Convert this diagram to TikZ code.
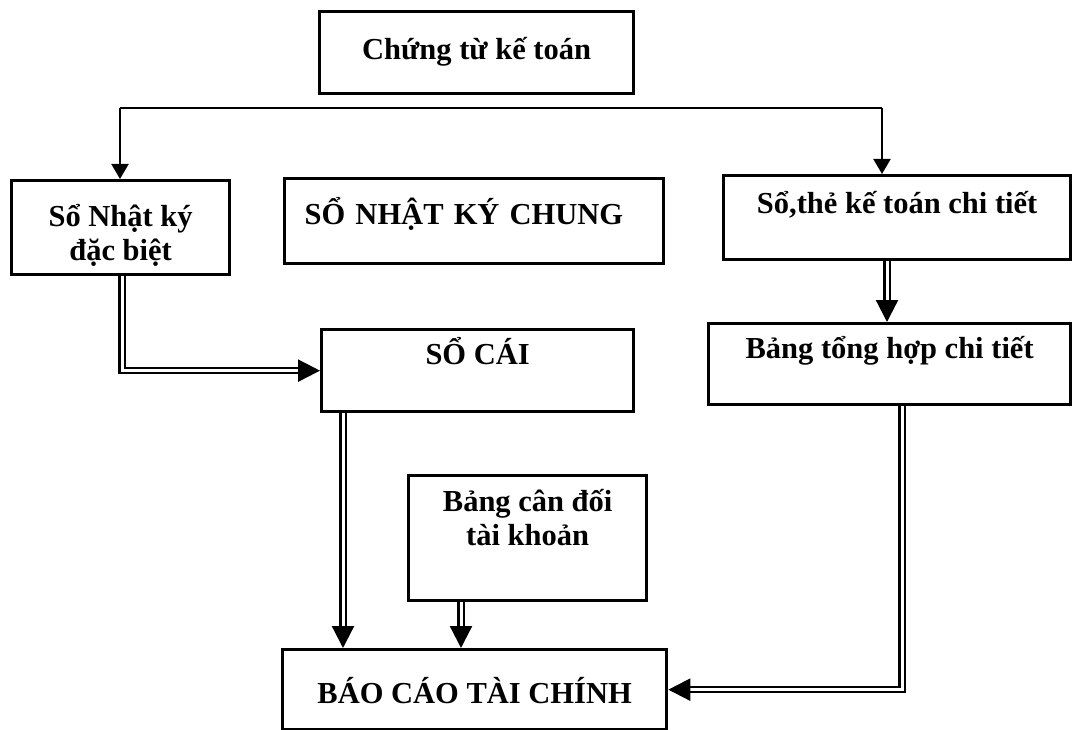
\documentclass[tikz,border=0pt]{standalone}
\usepackage{fontspec}
\setmainfont{Liberation Serif}
\usetikzlibrary{arrows.meta}
\newcommand{\twolines}[2]{\begin{tabular}[t]{@{}c@{}}#1\\#2\end{tabular}}
\tikzset{
  box/.style={draw, line width=3.3pt, inner xsep=0pt, inner ysep=0pt, anchor=north west,
    font=\bfseries\fontsize{30.5}{34}\selectfont, align=center},
  thin arrow/.style={line width=2pt, -{Triangle[length=15pt,width=17pt]}},
  thin line/.style={line width=2pt},
  dbl arrow/.style={line width=2.3pt, double, double distance=3pt,
    -{Triangle[length=22pt,width=22pt]}}
}
\begin{document}
\begin{tikzpicture}[x=1pt,y=-1pt]
\useasboundingbox (0,0) rectangle (1074,730);
% boxes
\node[box, minimum width=314pt, text height=48pt, text depth=34pt] (ctkt) at (318,10) {Chứng từ kế toán};
\node[box, minimum width=218pt, text height=46pt, text depth=48pt] (nkdb) at (10,179) {\twolines{Sổ Nhật ký}{đặc biệt}};
\node[box, text width=339pt, inner xsep=20pt, align=left, text height=46pt, text depth=39pt] (nkc) at (283,177) {SỔ NHẬT KÝ CHUNG};
\node[box, minimum width=347pt, text height=38pt, text depth=46pt] (sothe) at (722,174) {Sổ,thẻ kế toán chi tiết};
\node[box, minimum width=362pt, text height=35pt, text depth=46pt] (bth) at (707,322) {Bảng tổng hợp chi tiết};
\node[box, minimum width=312pt, text height=35pt, text depth=47pt] (socai) at (320,328) {SỔ CÁI};
\node[box, minimum width=238pt, text height=36pt, text depth=89pt] (bcd) at (407,474) {\twolines{Bảng cân đối}{tài khoản}};
\node[box, minimum width=384pt, text height=54pt, text depth=26pt] (bctc) at (281,648) {BÁO CÁO TÀI CHÍNH};
% top distribution line
\coordinate (hl) at (120,108);
\coordinate (hr) at (882,108);
\draw[thin line] (hl) -- (hr);
\draw[thin arrow] (hl) -- (hl |- nkdb.north);
\draw[thin arrow] (hr) -- (hr |- sothe.north);
% double connectors
\coordinate (a1) at (122,0);
\draw[dbl arrow] (a1 |- nkdb.south) |- (socai.west);
\coordinate (a2) at (887,0);
\draw[dbl arrow] (a2 |- sothe.south) -- (a2 |- bth.north);
\coordinate (a3) at (343,0);
\draw[dbl arrow] (a3 |- socai.south) -- (a3 |- bctc.north);
\coordinate (a4) at (461,0);
\draw[dbl arrow] (a4 |- bcd.south) -- (a4 |- bctc.north);
\coordinate (a5) at (902,0);
\draw[dbl arrow] (a5 |- bth.south) |- (bctc.east);
\end{tikzpicture}
\end{document}
